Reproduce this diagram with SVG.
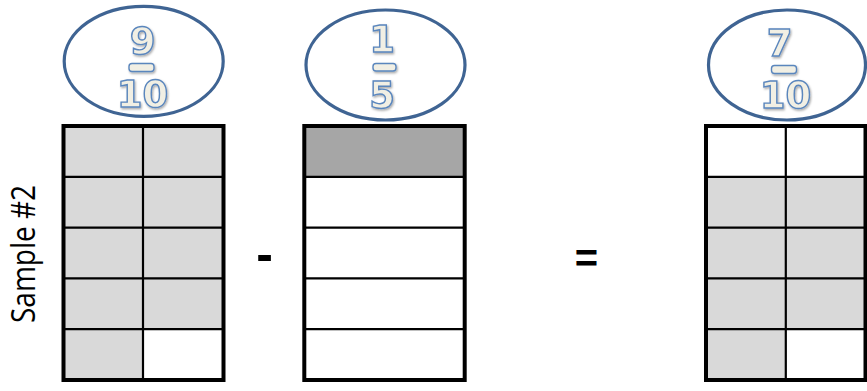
<svg xmlns="http://www.w3.org/2000/svg" width="867" height="391" viewBox="0 0 867 391">
<style>
.oval{fill:#fff;stroke:#3F6493;stroke-width:3.2}
.frac{font-family:"DejaVu Sans",sans-serif;font-weight:bold;font-size:37px;fill:#F1EFE4;stroke:#5A86BD;stroke-width:1.4;text-anchor:middle}
.bar{fill:#F1EFE4;stroke:#5A86BD;stroke-width:1.4}
.lt{fill:#D9D9D9}
.dk{fill:#A6A6A6}
.wh{fill:#FFFFFF}
.inner{stroke:#000;stroke-width:2.2;fill:none}
.outer{stroke:#000;stroke-width:4;fill:none}
.op{font-family:"Liberation Sans",sans-serif;font-weight:bold;fill:#000;text-anchor:middle}
.lbl{font-family:"Open Sans",sans-serif;font-size:32px;fill:#000;text-anchor:middle}
</style>
<defs>
<filter id="sh" x="-20%" y="-20%" width="140%" height="140%">
<feDropShadow dx="1" dy="1.5" stdDeviation="1" flood-color="#000" flood-opacity="0.35"/>
</filter>
</defs>
<rect width="867" height="391" fill="#fff"/>

<g id="label">
<text class="lbl" transform="translate(35,254) rotate(-90)" textLength="138" lengthAdjust="spacingAndGlyphs">Sample #2</text>
</g>

<g id="frac-left">
<ellipse class="oval" cx="143.7" cy="61.3" rx="79.5" ry="55"/>
<g filter="url(#sh)">
<text class="frac" x="142.5" y="54">9</text>
<rect class="bar" x="129" y="63.5" width="25" height="8" rx="3"/>
<text class="frac" x="142.5" y="107">10</text>
</g>
</g>

<g id="frac-mid">
<ellipse class="oval" cx="385.5" cy="65" rx="79.5" ry="55"/>
<g filter="url(#sh)">
<text class="frac" x="382" y="52">1</text>
<rect class="bar" x="373" y="63.5" width="23" height="7.5" rx="3"/>
<text class="frac" x="382" y="108">5</text>
</g>
</g>

<g id="frac-right">
<ellipse class="oval" cx="787" cy="65" rx="78.5" ry="55"/>
<g filter="url(#sh)">
<text class="frac" x="779.5" y="56">7</text>
<rect class="bar" x="771.5" y="65.5" width="25" height="8" rx="3"/>
<text class="frac" x="785.5" y="108">10</text>
</g>
</g>

<g id="grid-left">
<rect class="lt" x="63.5" y="126" width="160" height="254"/>
<rect class="wh" x="143" y="329.2" width="80.5" height="50.8"/>
<path class="inner" d="M143 126V380M63.5 176.8H223.5M63.5 227.6H223.5M63.5 278.4H223.5M63.5 329.2H223.5"/>
<rect class="outer" x="63.5" y="126" width="160" height="254"/>
</g>

<g id="grid-mid">
<rect class="wh" x="304.3" y="126" width="160.4" height="254"/>
<rect class="dk" x="304.3" y="126" width="160.4" height="50.8"/>
<path class="inner" d="M304.3 176.8H464.7M304.3 227.6H464.7M304.3 278.4H464.7M304.3 329.2H464.7"/>
<rect class="outer" x="304.3" y="126" width="160.4" height="254"/>
</g>

<g id="grid-right">
<rect class="lt" x="706" y="176.8" width="159.5" height="203.2"/>
<rect class="wh" x="785.8" y="329.2" width="79.7" height="50.8"/>
<path class="inner" d="M785.8 126V380M706 176.8H865.5M706 227.6H865.5M706 278.4H865.5M706 329.2H865.5"/>
<rect class="outer" x="706" y="126" width="159.5" height="254"/>
</g>

<g id="operators">
<text class="op" x="264.5" y="270.5" font-size="50">-</text>
<text class="op" x="586.5" y="272" font-size="40">=</text>
</g>
</svg>
